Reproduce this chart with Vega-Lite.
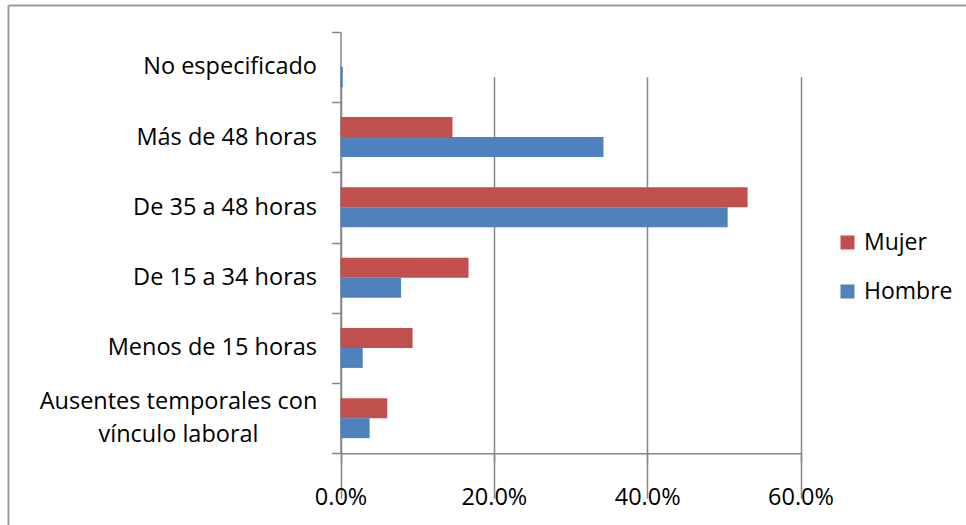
{
  "$schema": "https://vega.github.io/schema/vega-lite/v6.json",
  "autosize": "none",
  "padding": {"left": 8, "top": 5, "right": 0, "bottom": 0},
  "width": 958,
  "height": 520,
  "background": "white",
  "config": {
    "view": {"stroke": null},
    "font": "Open Sans"
  },
  "data": {
    "values": [
      {"categoria": "No especificado", "sexo": "Mujer", "valor": 0.0},
      {"categoria": "No especificado", "sexo": "Hombre", "valor": 0.003},
      {"categoria": "Más de 48 horas", "sexo": "Mujer", "valor": 0.146},
      {"categoria": "Más de 48 horas", "sexo": "Hombre", "valor": 0.343},
      {"categoria": "De 35 a 48 horas", "sexo": "Mujer", "valor": 0.531},
      {"categoria": "De 35 a 48 horas", "sexo": "Hombre", "valor": 0.505},
      {"categoria": "De 15 a 34 horas", "sexo": "Mujer", "valor": 0.167},
      {"categoria": "De 15 a 34 horas", "sexo": "Hombre", "valor": 0.079},
      {"categoria": "Menos de 15 horas", "sexo": "Mujer", "valor": 0.094},
      {"categoria": "Menos de 15 horas", "sexo": "Hombre", "valor": 0.029},
      {"categoria": "Ausentes temporales con vínculo laboral", "sexo": "Mujer", "valor": 0.061},
      {"categoria": "Ausentes temporales con vínculo laboral", "sexo": "Hombre", "valor": 0.038}
    ]
  },
  "layer": [
    {
      "mark": {"type": "bar"},
      "encoding": {
        "y": {
          "field": "categoria",
          "type": "nominal",
          "sort": ["No especificado", "Más de 48 horas", "De 35 a 48 horas", "De 15 a 34 horas", "Menos de 15 horas", "Ausentes temporales con vínculo laboral"],
          "scale": {"range": [26.7, 448.3], "paddingInner": 0, "paddingOuter": 0},
          "axis": {
            "title": null,
            "orient": "left",
            "offset": -332.5,
            "tickBand": "extent",
            "tickSize": 9,
            "tickColor": "#868686",
            "tickWidth": 1.5,
            "domainColor": "#868686",
            "domainWidth": 1.5,
            "grid": false,
            "labelFontSize": 23.5,
            "labelColor": "black",
            "labelLimit": 500,
            "labelLineHeight": 33,
            "labelPadding": {"condition": {"test": "datum.value == 'Ausentes temporales con vínculo laboral'", "value": 153.5}, "value": 15},
            "labelAlign": {"condition": {"test": "datum.value == 'Ausentes temporales con vínculo laboral'", "value": "center"}, "value": "right"},
            "labelOffset": {"condition": {"test": "datum.value == 'Ausentes temporales con vínculo laboral'", "value": -16.5}, "value": 0},
            "labelExpr": "datum.label == 'Ausentes temporales con vínculo laboral' ? ['Ausentes temporales con', 'vínculo laboral'] : datum.label"
          }
        },
        "yOffset": {
          "field": "sexo",
          "sort": ["Mujer", "Hombre"],
          "scale": {"paddingInner": 0, "paddingOuter": 0.757}
        },
        "x": {
          "field": "valor",
          "type": "quantitative",
          "scale": {"domain": [0, 0.6], "range": [332.5, 792.5], "nice": false, "zero": true},
          "axis": {
            "title": null,
            "orient": "bottom",
            "offset": -71.7,
            "values": [0, 0.2, 0.4, 0.6],
            "format": ".1%",
            "grid": true,
            "gridColor": "#868686",
            "gridWidth": 1.5,
            "tickSize": 9,
            "tickColor": "#868686",
            "tickWidth": 1.5,
            "domainColor": "#868686",
            "domainWidth": 1.5,
            "labelPadding": 23,
            "labelFontSize": 23.5,
            "labelColor": "black",
            "labelFlush": false
          }
        },
        "color": {
          "field": "sexo",
          "type": "nominal",
          "scale": {"domain": ["Mujer", "Hombre"], "range": ["#C0504D", "#4F81BD"]},
          "legend": {
            "title": null,
            "orient": "none",
            "legendX": 828,
            "legendY": 226,
            "symbolType": "square",
            "symbolSize": 196,
            "symbolStrokeWidth": 0,
            "labelFontSize": 23,
            "labelColor": "black",
            "labelOffset": 5,
            "rowPadding": 25
          }
        }
      }
    },
    {
      "mark": {"type": "point", "opacity": 0},
      "encoding": {
        "x": {
          "field": "valor",
          "type": "quantitative",
          "scale": {"domain": [0, 1], "nice": false},
          "axis": {"orient": "top", "title": null, "labels": false, "ticks": false, "grid": false, "domainColor": "#9a9a9a", "domainWidth": 2, "offset": 0}
        },
        "y": {
          "field": "valor",
          "type": "quantitative",
          "scale": {"domain": [0, 1], "nice": false},
          "axis": {"orient": "left", "title": null, "labels": false, "ticks": false, "grid": false, "domainColor": "#9a9a9a", "domainWidth": 2, "offset": 0}
        }
      }
    }
  ],
  "resolve": {
    "scale": {"x": "independent", "y": "independent"},
    "axis": {"x": "independent", "y": "independent"}
  }
}
